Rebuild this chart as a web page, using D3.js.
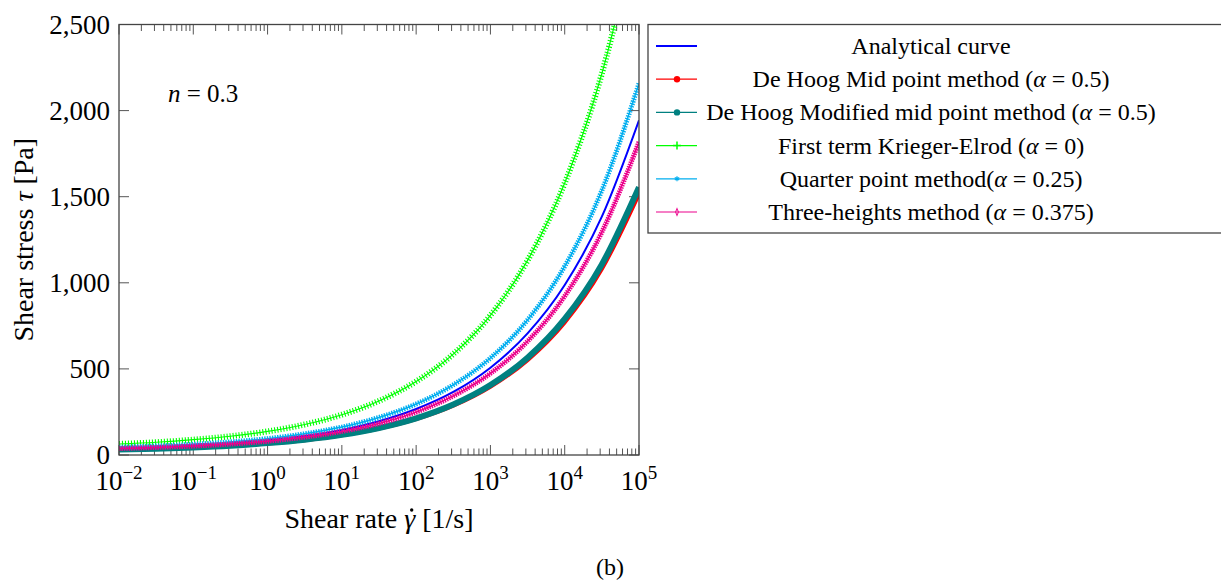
<!DOCTYPE html>
<html>
<head>
<meta charset="utf-8">
<script src="https://cdn.jsdelivr.net/npm/d3@7"></script>
<style>
  body { margin: 0; background: #fff; }
  text { font-family: "Liberation Serif", "DejaVu Serif", serif; fill: #000; }
</style>
</head>
<body>
<script>
//SVG size
var w = 1221, h = 582;

// data (shear rate in 1/s, stress in Pa)
var shearRate = [0.01, 0.0316, 0.1, 0.316, 1, 3.16, 10, 31.6, 100, 316, 1000, 3160, 10000, 31600, 100000];
var analytical   = [40, 47, 55, 68, 86, 111, 146, 196, 267, 366, 507, 706, 987, 1384, 1944];
var deHoogMid    = [31, 36, 43, 53, 67, 86, 114, 153, 208, 286, 396, 551, 770, 1080, 1516];
var deHoogMod    = [32, 37, 44, 54, 69, 89, 117, 157, 213, 293, 406, 565, 790, 1107, 1555];
var kriegerElrod = [64, 74, 89, 109, 137, 177, 234, 314, 427, 586, 811, 1130, 1579, 2214, 3110];
var quarterPoint = [45, 52, 62, 76, 95, 123, 162, 218, 296, 407, 563, 784, 1096, 1536, 2158];
var threeHeights = [38, 44, 52, 64, 80, 104, 137, 183, 249, 343, 474, 660, 923, 1294, 1818];

var seriesNames = [
    "Analytical curve",
    "De Hoog Mid point method (",
    "De Hoog Modified mid point method (",
    "First term Krieger-Elrod (",
    "Quarter point method(",
    "Three-heights method ("
];
var alphaText = [null, " = 0.5)", " = 0.5)", " = 0)", " = 0.25)", " = 0.375)"];
var seriesValues = [analytical, deHoogMid, deHoogMod, kriegerElrod, quarterPoint, threeHeights];

var xTicks = [1e-2, 1e-1, 1e0, 1e1, 1e2, 1e3, 1e4, 1e5];
var xExp = ["\u22122", "\u22121", "0", "1", "2", "3", "4", "5"];
var yTicks = [0, 500, 1000, 1500, 2000, 2500];

// line styles, one per series
var styles = [
    { color: "#0000ff", line: 2,   band: 0,   dash: null,      marker: "none" },
    { color: "#ff0000", line: 1,   band: 4,   dash: null,      marker: "dot" },
    { color: "#008080", line: 1,   band: 6,   dash: null,      marker: "dot" },
    { color: "#00ff00", line: 1.2, band: 6,   dash: "1.1 1.9", marker: "plus" },
    { color: "#00aeef", line: 1.5, band: 5,   dash: "1.4 1.2", marker: "star" },
    { color: "#ec008c", line: 1.5, band: 5,   dash: "1.5 0.9", marker: "diamond" }
];

var plotLeft = 119, plotRight = 639, plotTop = 24.5, plotBottom = 455;

var svg = d3.select("body")
    .append("svg")
    .attr("width", w)
    .attr("height", h)
    .attr("class", "container");

var x = d3.scaleLog()
    .domain([1e-2, 1e5])
    .range([plotLeft, plotRight]);

var y = d3.scaleLinear()
    .domain([0, 2500])
    .range([plotBottom, plotTop]);

svg.append("clipPath")
    .attr("id", "plotclip")
    .append("rect")
    .attr("x", plotLeft)
    .attr("y", plotTop)
    .attr("width", plotRight - plotLeft)
    .attr("height", plotBottom - plotTop);

// ticks (pgfplots style, drawn inward on all four sides)
var minor = [];
for (var e = -2; e < 5; e++) {
    for (var k = 2; k < 10; k++) minor.push(k * Math.pow(10, e));
}
var tickG = svg.append("g").attr("class", "ticks").attr("stroke", "#555").attr("stroke-width", 1);
[plotBottom, plotTop].forEach(function(edge){
    var dir = edge === plotBottom ? -1 : 1;
    tickG.selectAll(null)
        .data(minor)
        .enter()
        .append("line")
        .attr("x1", function(d){ return x(d); })
        .attr("x2", function(d){ return x(d); })
        .attr("y1", edge)
        .attr("y2", edge + dir * 6.5);
    tickG.selectAll(null)
        .data(xTicks)
        .enter()
        .append("line")
        .attr("x1", function(d){ return x(d); })
        .attr("x2", function(d){ return x(d); })
        .attr("y1", edge)
        .attr("y2", edge + dir * 10);
});
[plotLeft, plotRight].forEach(function(edge){
    var dir = edge === plotLeft ? 1 : -1;
    tickG.selectAll(null)
        .data(yTicks)
        .enter()
        .append("line")
        .attr("x1", edge)
        .attr("x2", edge + dir * 10)
        .attr("y1", function(d){ return y(d); })
        .attr("y2", function(d){ return y(d); });
});

// curves
var plot = svg.append("g").attr("clip-path", "url(#plotclip)");
var line = d3.line()
    .x(function(d){ return x(d[0]); })
    .y(function(d){ return y(d[1]); })
    .curve(d3.curveMonotoneX);

seriesValues.forEach(function(vals, i){
    var pts = shearRate.map(function(r, j){ return [r, vals[j]]; });
    var st = styles[i];
    if (st.band > 0) {
        plot.append("path")
            .attr("d", line(pts))
            .attr("fill", "none")
            .attr("stroke", st.color)
            .attr("stroke-width", st.band)
            .attr("stroke-dasharray", st.dash);
    }
    plot.append("path")
        .attr("d", line(pts))
        .attr("fill", "none")
        .attr("stroke", st.color)
        .attr("stroke-width", st.line);
});

// frame
svg.append("rect")
    .attr("x", plotLeft)
    .attr("y", plotTop)
    .attr("width", plotRight - plotLeft)
    .attr("height", plotBottom - plotTop)
    .attr("fill", "none")
    .attr("stroke", "#444")
    .attr("stroke-width", 1.3);

// tick labels
var format = d3.format(",");
svg.selectAll(".ylab")
    .data(yTicks)
    .enter()
    .append("text")
    .attr("class", "ylab")
    .attr("x", 110)
    .attr("y", function(d){ return y(d) + 9; })
    .attr("text-anchor", "end")
    .style("font-size", "27px")
    .text(function(d){ return format(d); });

var xl = svg.selectAll(".xlab")
    .data(xTicks)
    .enter()
    .append("text")
    .attr("class", "xlab")
    .attr("x", function(d){ return x(d); })
    .attr("y", 490)
    .attr("text-anchor", "middle")
    .style("font-size", "27px");
xl.append("tspan").text("10");
xl.append("tspan")
    .attr("dy", -11)
    .style("font-size", "19px")
    .text(function(d, i){ return xExp[i]; });

// axis titles (the dot over gamma is a small circle)
var xt = svg.append("text")
    .attr("x", (plotLeft + plotRight) / 2)
    .attr("y", 528)
    .attr("text-anchor", "middle")
    .style("font-size", "28px");
xt.append("tspan").text("Shear rate ");
var gam = xt.append("tspan").style("font-style", "italic").text("\u03B3");
xt.append("tspan").text(" [1/s]");
var full = xt.node().getComputedTextLength();
var before = xt.node().getSubStringLength(0, 11);
var gw = xt.node().getSubStringLength(11, 1);
svg.append("circle")
    .attr("cx", (plotLeft + plotRight) / 2 - full / 2 + before + gw / 2 + 2)
    .attr("cy", 528 - 18)
    .attr("r", 1.7)
    .attr("fill", "#000");

var yt = svg.append("text")
    .attr("transform", "translate(33," + ((plotTop + plotBottom) / 2) + ") rotate(-90)")
    .attr("text-anchor", "middle")
    .style("font-size", "28px");
yt.append("tspan").text("Shear stress ");
yt.append("tspan").style("font-style", "italic").text("\u03C4");
yt.append("tspan").text(" [Pa]");

// annotation
var ann = svg.append("text")
    .attr("x", 168)
    .attr("y", 102)
    .style("font-size", "25px");
ann.append("tspan").style("font-style", "italic").text("n");
ann.append("tspan").text(" = 0.3");

svg.append("text")
    .attr("x", 610)
    .attr("y", 575)
    .attr("text-anchor", "middle")
    .style("font-size", "24px")
    .text("(b)");

// legend
var legend = svg.append("g").attr("class", "legend");
legend.append("rect")
    .attr("x", 648)
    .attr("y", 24.5)
    .attr("width", 600)
    .attr("height", 208.5)
    .attr("fill", "#fff")
    .attr("stroke", "#444")
    .attr("stroke-width", 1.3);

var rows = legend.selectAll(".row")
    .data(seriesNames)
    .enter()
    .append("g")
    .attr("class", "row")
    .attr("transform", function(d, i){ return "translate(0," + (46 + i * 33.2) + ")"; });

rows.append("line")
    .attr("x1", 656)
    .attr("x2", 697)
    .attr("stroke", function(d, i){ return styles[i].color; })
    .attr("stroke-width", function(d, i){ return i === 0 ? 2 : 1.2; });

var sym = d3.symbol().size(14);
rows.each(function(d, i){
    var g = d3.select(this), st = styles[i];
    if (st.marker === "dot") {
        g.append("circle").attr("cx", 677).attr("r", 3.2).attr("fill", st.color);
    } else if (st.marker === "plus") {
        g.append("path").attr("d", "M673,0H681M677,-4V4").attr("stroke", st.color).attr("stroke-width", 1.5);
    } else if (st.marker === "star") {
        g.append("path").attr("transform", "translate(677,0)").attr("d", d3.symbol(d3.symbolAsterisk, 18)()).attr("stroke", st.color).attr("stroke-width", 1.2);
    } else if (st.marker === "diamond") {
        g.append("path").attr("transform", "translate(677,0) scale(0.7,1)").attr("d", sym.type(d3.symbolDiamond)()).attr("fill", "none").attr("stroke", st.color).attr("stroke-width", 1.3);
    }
});

var labels = rows.append("text")
    .attr("x", 931)
    .attr("y", 8)
    .attr("text-anchor", "middle")
    .style("font-size", "24px");
labels.append("tspan").text(function(d){ return d; });
labels.append("tspan")
    .style("font-style", "italic")
    .text(function(d, i){ return alphaText[i] ? "\u03B1" : ""; });
labels.append("tspan")
    .text(function(d, i){ return alphaText[i] || ""; });
</script>
</body>
</html>
